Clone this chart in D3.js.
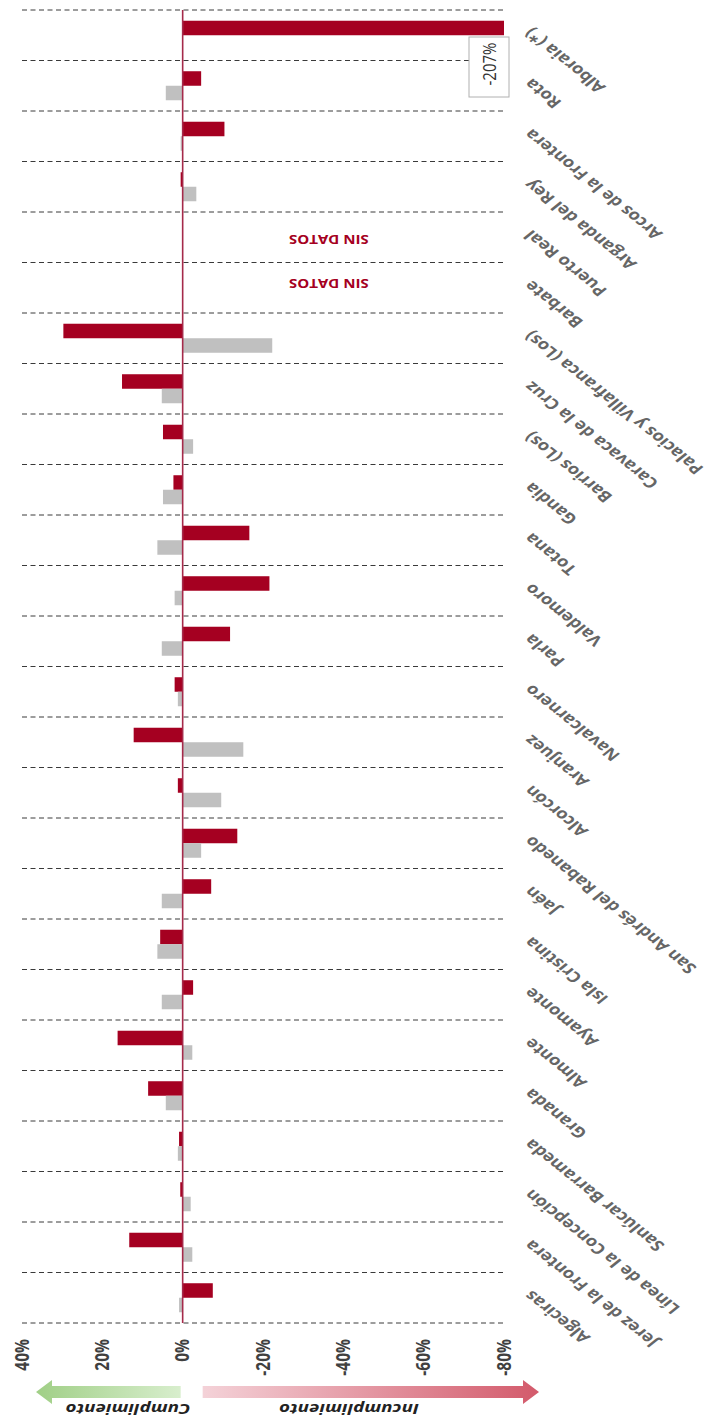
<!DOCTYPE html>
<html>
<head>
<meta charset="utf-8">
<script src="https://cdn.jsdelivr.net/npm/d3@7/dist/d3.min.js"></script>
<style>
  html, body { margin: 0; padding: 0; background: #fff; }
  svg { display: block; font-family: "Open Sans", "Noto Sans", sans-serif; }
</style>
</head>
<body>
<div id="chart"></div>
<script>
// Municipios, de arriba abajo tal como aparecen en la imagen (girada).
const municipios = [
  'Alboraia (*)', 'Rota', 'Arcos de la Frontera', 'Arganda del Rey', 'Puerto Real', 'Barbate',
  'Palacios y Villafranca (Los)', 'Caravaca de la Cruz', 'Barrios (Los)', 'Gandia', 'Totana',
  'Valdemoro', 'Parla', 'Navalcarnero', 'Aranjuez', 'Alcorcón', 'San Andrés del Rabanedo',
  'Jaén', 'Isla Cristina', 'Ayamonte', 'Almonte', 'Granada', 'Sanlúcar Barrameda',
  'Línea de la Concepción', 'Jerez de la Frontera', 'Algeciras'
];
// % (positivo = cumplimiento, negativo = incumplimiento); null = sin dato
const serieRoja = [-207, -4.6, -10.4, 0.5, null, null, 29.7, 15.1, 4.9, 2.3, -16.6,
  -21.6, -11.8, 2.0, 12.2, 1.2, -13.6, -7.1, 5.6, -2.6, 16.2, 8.6, 0.9, 0.6, 13.3, -7.5];
const serieGris = [null, 4.2, 0.5, -3.4, null, null, -22.3, 5.2, -2.6, 4.9, 6.3,
  2.0, 5.2, 1.2, -15.1, -9.6, -4.6, 5.2, 6.3, 5.2, -2.4, 4.2, 1.2, -2.0, -2.4, 0.9];
const sinDatos = ['Puerto Real', 'Barbate'];
const ticks = [40, 20, 0, -20, -40, -60, -80];
const fueraDeEscala = { municipio: 'Alboraia (*)', texto: '-207%' };

const W = 711, H = 1423;
const S = 1.25; // the picture is stretched horizontally
const red = '#a50021', grey = '#c0c0c0';

const svg = d3.select('#chart').append('svg').attr('width', W).attr('height', H);
const defs = svg.append('defs');

const x = d3.scaleLinear().domain([40, -80]).range([22, 504]).clamp(true);
const y = d3.scaleBand().domain(municipios).range([10, 1323]);
const sub = d3.scaleBand().domain(['roja', 'gris']).range([0, y.bandwidth()])
  .paddingInner(0).paddingOuter(0.74);

const tr = (px, py, rot) => `translate(${px},${py}) scale(${S},1) rotate(${rot})`;

// dashed separators
svg.append('g').selectAll('line')
  .data(d3.range(municipios.length + 1))
  .join('line')
  .attr('x1', x(40)).attr('x2', x(-80))
  .attr('y1', i => i < municipios.length ? y(municipios[i]) : y.range()[1])
  .attr('y2', i => i < municipios.length ? y(municipios[i]) : y.range()[1])
  .attr('stroke', '#3a3a3a').attr('stroke-width', 1).attr('stroke-dasharray', '5,3.5');

// bars
const rows = municipios.map((m, i) => ({ m, roja: serieRoja[i], gris: serieGris[i] }));
const bars = [];
rows.forEach(r => {
  if (r.roja != null) bars.push({ m: r.m, k: 'roja', v: r.roja });
  if (r.gris != null) bars.push({ m: r.m, k: 'gris', v: r.gris });
});
svg.append('g').selectAll('rect')
  .data(bars)
  .join('rect')
  .attr('x', d => Math.min(x(0), x(d.v)))
  .attr('width', d => Math.abs(x(d.v) - x(0)))
  .attr('y', d => y(d.m) + sub(d.k))
  .attr('height', sub.bandwidth())
  .attr('fill', d => d.k === 'roja' ? red : grey);

// zero line
svg.append('line')
  .attr('x1', x(0)).attr('x2', x(0))
  .attr('y1', y.range()[0]).attr('y2', y.range()[1])
  .attr('stroke', '#a52a4a').attr('stroke-width', 1.6);

// category labels (upside down, diagonal)
svg.append('g').selectAll('text')
  .data(municipios)
  .join('text')
  .attr('transform', d => tr(527, y(d) + y.bandwidth() / 2 - 4, -135))
  .attr('text-anchor', 'end')
  .attr('dominant-baseline', 'central')
  .attr('font-size', 14.8).attr('font-weight', 700)
  .attr('fill', '#666')
  .text(d => d);

// SIN DATOS
svg.append('g').selectAll('text')
  .data(sinDatos)
  .join('text')
  .attr('transform', (d, i) => tr(x(-36.4), y(d) + y.bandwidth() / 2 + (i === 0 ? 2.5 : -4), 180))
  .attr('text-anchor', 'middle')
  .attr('dominant-baseline', 'central')
  .attr('font-size', 12).attr('font-weight', 700)
  .attr('fill', red)
  .text(d => 'SIN DATOS');

// out of scale annotation
{
  const bx = x(-80) + 5 - 40, by = y(fueraDeEscala.municipio) + 27;
  svg.append('rect').attr('x', bx).attr('y', by).attr('width', 40).attr('height', 60)
    .attr('fill', '#fff').attr('stroke', '#b0b0b0').attr('stroke-width', 1);
  svg.append('text')
    .attr('transform', tr(bx + 20, by + 27, -90))
    .attr('text-anchor', 'middle').attr('dominant-baseline', 'central')
    .attr('font-size', 15).attr('fill', '#333')
    .text(fueraDeEscala.texto);
}

// axis tick labels
svg.append('g').selectAll('text')
  .data(ticks)
  .join('text')
  .attr('transform', d => tr(x(d) - 1, 1339, -90))
  .attr('text-anchor', 'end')
  .attr('dominant-baseline', 'central')
  .attr('font-size', 15.5).attr('font-weight', 700)
  .attr('fill', '#404040')
  .text(d => `${d}%`);

// arrows
function grad(id, c0, c1) {
  const g = defs.append('linearGradient').attr('id', id).attr('x1', 0).attr('x2', 1).attr('y1', 0).attr('y2', 0);
  g.append('stop').attr('offset', 0).attr('stop-color', c0);
  g.append('stop').attr('offset', 1).attr('stop-color', c1);
}
grad('gRed', '#f4d2d8', '#d35a6b');
grad('gGreen', '#a0cf86', '#d8eecd');

const ay = 1392;
const arrow = (from, to) => {
  const dir = Math.sign(to - from), head = 16 * dir;
  return d3.line()([
    [from, ay - 6], [to - head, ay - 6], [to - head, ay - 12], [to, ay],
    [to - head, ay + 12], [to - head, ay + 6], [from, ay + 6]
  ]) + 'Z';
};
svg.append('path').attr('d', arrow(x(0) + 20, x(-80) + 35)).attr('fill', 'url(#gRed)');
svg.append('path').attr('d', arrow(x(0) - 2, x(40) + 14)).attr('fill', 'url(#gGreen)');

svg.append('text')
  .attr('transform', tr(349, 1410, 180))
  .attr('text-anchor', 'middle').attr('dominant-baseline', 'central')
  .attr('font-size', 15).attr('font-weight', 700).attr('font-style', 'italic')
  .attr('fill', '#222').text('Incumplimiento');
svg.append('text')
  .attr('transform', tr(128, 1410, 180))
  .attr('text-anchor', 'middle').attr('dominant-baseline', 'central')
  .attr('font-size', 15).attr('font-weight', 700).attr('font-style', 'italic')
  .attr('fill', '#222').text('Cumplimiento');
</script>
</body>
</html>
